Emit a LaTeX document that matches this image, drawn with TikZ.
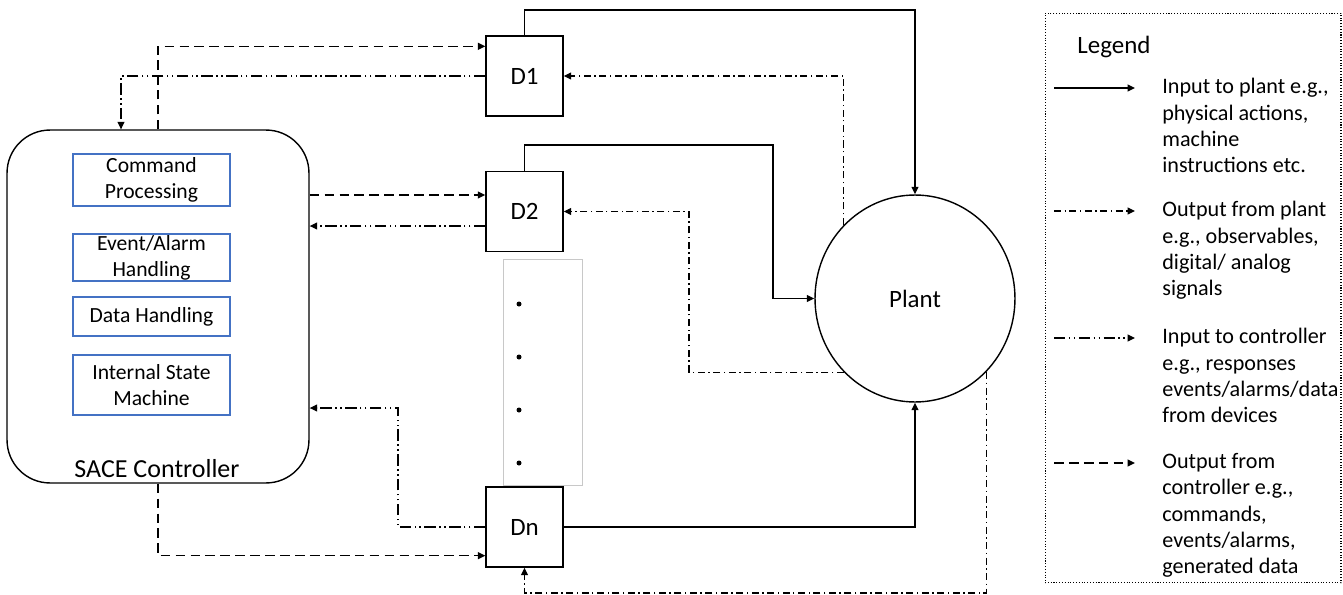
\documentclass[tikz,border=0pt]{standalone}
\usepackage{fontspec}
\setmainfont{Carlito}
\usepackage{tikz}
\usetikzlibrary{arrows.meta, positioning, shapes.geometric, calc}
\definecolor{SACEblue}{RGB}{68, 114, 196}
\definecolor{gapgray}{RGB}{200, 200, 200}
\tikzset{every node/.style={font=\fontsize{14.2}{17}\selectfont}, every path/.style={line join=miter}, >={Triangle[length=1.5mm, width=1.4mm]}}
\tikzset{
    unit/.style={draw, line width=0.8pt, minimum width=1.54cm, minimum height=1.6cm, inner sep=0pt},
    module/.style={draw=SACEblue, line width=0.8pt, minimum width=3.14cm, align=center, inner sep=0pt, font=\fontsize{12.3}{14.8}\selectfont},
    plantin/.style={->, line width=0.8pt},
    plantout/.style={->, line width=0.7pt, dash pattern=on 4pt off 2pt on 0.8pt off 2pt},
    ctrlin/.style={->, line width=0.7pt, dash pattern=on 6.5pt off 2pt on 0.8pt off 2pt on 0.8pt off 2pt},
    ctrlout/.style={->, line width=0.8pt, dash pattern=on 5.5pt off 3pt},
    legendtext/.style={anchor=north west, inner sep=0pt, align=left, font=\fontsize{12.6}{15}\selectfont}
}

\begin{document}
\begin{tikzpicture}[x=0.02cm, y=-0.02cm]
    \useasboundingbox (0,0) rectangle (1343,595);

    % controller and its modules
    \node [draw, line width=0.8pt, rounded corners=0.86cm, minimum width=6.04cm, minimum height=7.06cm] (ctrl) at (158,306.5) {};
    \node (ctrlname) at (157,469) {\fontsize{14.8}{17}\selectfont SACE Controller};
    \node [module, minimum height=1.04cm] (cmd) at (151.5,180) {Command\\Processing};
    \node [module, minimum height=0.94cm] (evt) at (151.5,257.5) {Event/Alarm\\Handling};
    \node [module, minimum height=0.78cm] (data) at (151.5,316.5) {Data Handling};
    \node [module, minimum height=1.2cm] (ism) at (151.5,385) {Internal State\\Machine};

    % devices
    \node [unit] (D1) at (524.5,76) {D1};
    \node [unit] (D2) at (524.5,211.5) {D2};
    \node [unit] (Dn) at (524.5,527) {Dn};
    \node [draw=gapgray, line width=0.5pt, minimum width=1.58cm, minimum height=4.52cm] (gap) at (542.5,372) {};
    \foreach \y in {304,357,410,463}
        \fill (519,\y) circle (0.05cm);

    % plant
    \node [draw, ellipse, line width=0.8pt, minimum width=4cm, minimum height=4.14cm] (plant) at (915,298.5) {Plant};

    % bends
    \coordinate (railA) at (0,10);
    \coordinate (railB) at (773,145);
    \coordinate (railC) at (689,0);
    \coordinate (railD) at (0,593);
    \coordinate (railE) at (398,408);
    \coordinate (d2in) at ($(D2.west)+(0,-16.5)$);
    \coordinate (d2back) at ($(D2.west)+(0,14.5)$);

    % input to plant
    \draw [plantin] (D1.north) -- (D1.north |- railA) -| (plant.north);
    \draw [plantin] (D2.north) |- (railB) |- (plant.west);
    \draw [plantin] (Dn.east) -| (plant.south);

    % output from plant
    \draw [plantout] (plant.134) |- (D1.east);
    \draw [plantout] (plant.226) -- (plant.226 -| railC) |- (D2.east);
    \draw [plantout] (plant.314) -- (plant.314 |- railD) -| (Dn.south);

    % controller links
    \draw [ctrlout] (ctrl.north) |- ($(D1.north west)+(0,11)$);
    \draw [ctrlin] (D1.west) -| ($(ctrl.north)+(-37,0)$);
    \draw [ctrlout] (ctrl.east |- d2in) -- (d2in);
    \draw [ctrlin] (d2back) -- (ctrl.east |- d2back);
    \draw [ctrlin] (Dn.west) -| (railE) -- (ctrl.east |- railE);
    \draw [ctrlout] (ctrl.south) |- ($(Dn.south west)+(0,-12)$);

    % legend
    \node [draw, densely dotted, line width=0.6pt, minimum width=5.92cm, minimum height=11.4cm] (legendbox) at (1193,298) {};
    \node (legendtitle) at (1114,47) {Legend};
    \coordinate (keyA) at (1054,88);
    \coordinate (keyB) at (1054,211);
    \coordinate (keyC) at (1054,338);
    \coordinate (keyD) at (1054,463);
    \draw [plantin] (keyA) -- ++(81,0);
    \draw [plantout] (keyB) -- ++(81,0);
    \draw [ctrlin] (keyC) -- ++(81,0);
    \draw [ctrlout] (keyD) -- ++(81,0);
    \node [legendtext] (textA) at (1162,78) {Input to plant e.g.,\\physical actions,\\machine\\instructions etc.};
    \node [legendtext] (textB) at (1162,201) {Output from plant\\e.g., observables,\\digital/ analog\\signals};
    \node [legendtext] (textC) at (1162,328) {Input to controller\\e.g., responses\\events/alarms/data\\from devices};
    \node [legendtext] (textD) at (1162,453) {Output from\\controller e.g.,\\commands,\\events/alarms,\\generated data};
\end{tikzpicture}
\end{document}
